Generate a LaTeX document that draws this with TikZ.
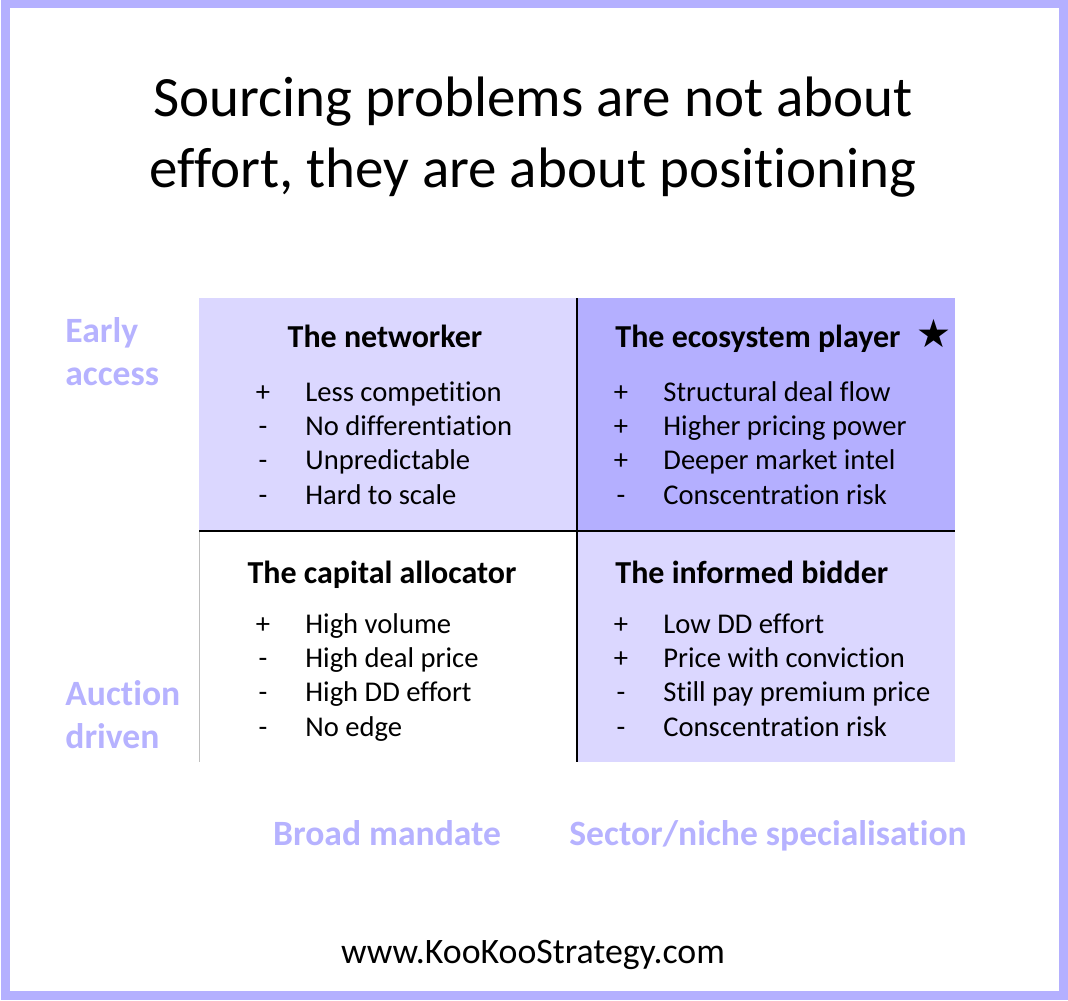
\documentclass[tikz,border=0pt]{standalone}
\usepackage{fontspec}
\setmainfont{Carlito}[Ligatures={NoCommon}]
\newfontfamily\starfont{DejaVu Sans}
\usetikzlibrary{positioning}

\definecolor{framelav}{RGB}{180,176,255}
\definecolor{palelav}{RGB}{219,215,255}
\definecolor{deeplav}{RGB}{180,175,255}
\definecolor{axislav}{RGB}{182,178,255}

\begin{document}
\begin{tikzpicture}[x=0.5pt,y=-0.5pt,
  every node/.style={inner sep=0pt},
  titletext/.style={anchor=base,font=\fontsize{28.5}{34}\selectfont},
  headtext/.style={anchor=base,font=\fontsize{16}{19}\selectfont\bfseries},
  signtext/.style={anchor=base,font=\fontsize{14.3}{17}\selectfont},
  itemtext/.style={anchor=base west,font=\fontsize{14.3}{17}\selectfont},
  axistext/.style={anchor=base west,text=axislav,font=\fontsize{17.8}{21}\selectfont\bfseries},
  gridline/.style={line width=0.8pt,black}]
  \useasboundingbox (0,0) rectangle (1068,1000);
  % outer frame
  \draw[framelav,line width=4.5pt] (5,4) rectangle (1063,995);
  % title
  \node[titletext] (title1) at (533,117) {Sourcing problems are not about};
  \node[titletext] (title2) at (533,187) {effort, they are about positioning};
  % quadrant fills
  \fill[palelav] (199,298) rectangle (577,531);
  \fill[deeplav] (577,298) rectangle (955,531);
  \fill[palelav] (577,531) rectangle (955,762);
  \draw[black!25,line width=0.4pt] (199,531) -- (199,762);
  \draw[gridline] (199,531) -- (955,531);
  \draw[gridline] (577,298) -- (577,762);
  % quadrant headers
  \node[headtext] (networker) at (385,347) {The networker};
  \node[headtext,anchor=base west] (ecosystem) at (615,347) {The ecosystem player\hspace{0.5em}{\starfont\fontsize{19.5}{20}\selectfont ★}};
  \node[headtext] (allocator) at (382,583) {The capital allocator};
  \node[headtext,anchor=base west] (bidder) at (615,583) {The informed bidder};
  % pros and cons
  \foreach \s/\t [count=\i] in {+/Less competition,-/No differentiation,-/Unpredictable,-/Hard to scale}{
    \node[signtext] (tl-s\i) at (263,{401+34.4*(\i-1)}) {\s};
    \node[itemtext] (tl-t\i) at (305,{401+34.4*(\i-1)}) {\t};
  }
  \foreach \s/\t [count=\i] in {+/Structural deal flow,+/Higher pricing power,+/Deeper market intel,-/Conscentration risk}{
    \node[signtext] (tr-s\i) at (621,{401+34.4*(\i-1)}) {\s};
    \node[itemtext] (tr-t\i) at (663,{401+34.4*(\i-1)}) {\t};
  }
  \foreach \s/\t [count=\i] in {+/High volume,-/High deal price,-/High DD effort,-/No edge}{
    \node[signtext] (bl-s\i) at (263,{633+34.4*(\i-1)}) {\s};
    \node[itemtext] (bl-t\i) at (305,{633+34.4*(\i-1)}) {\t};
  }
  \foreach \s/\t [count=\i] in {+/Low DD effort,+/Price with conviction,-/Still pay premium price,-/Conscentration risk}{
    \node[signtext] (br-s\i) at (621,{633+34.4*(\i-1)}) {\s};
    \node[itemtext] (br-t\i) at (663,{633+34.4*(\i-1)}) {\t};
  }
  % axis labels
  \node[axistext] (early1) at (65,342) {Early};
  \node[axistext] (early2) at (65,385) {access};
  \node[axistext] (auction1) at (65,705) {Auction};
  \node[axistext] (auction2) at (65,748) {driven};
  \node[axistext,anchor=base] (broad) at (387,845) {Broad mandate};
  \node[axistext,anchor=base] (niche) at (768,845) {Sector/niche specialisation};
  % footer
  \node[anchor=base,font=\fontsize{17.9}{21}\selectfont] (url) at (533,963) {www.KooKooStrategy.com};
\end{tikzpicture}
\end{document}
